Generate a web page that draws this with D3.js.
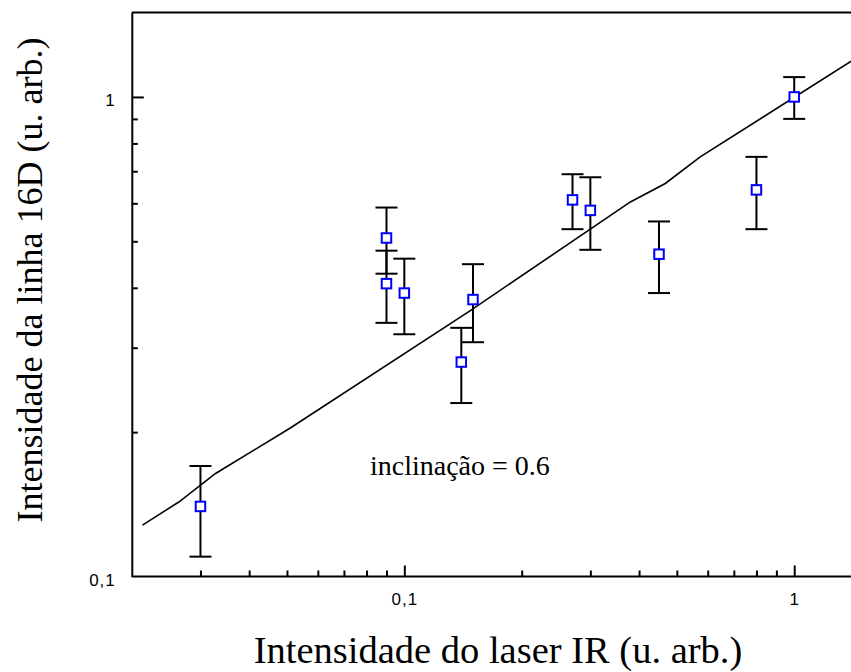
<!DOCTYPE html>
<html>
<head>
<meta charset="utf-8">
<script src="https://cdn.jsdelivr.net/npm/d3@7"></script>
<style>
  html, body { margin: 0; padding: 0; background: #fff; }
  svg { display: block; }
  .serif { font-family: "Liberation Serif", "Times New Roman", serif; fill: #000; }
</style>
</head>
<body>
<svg id="chart" width="851" height="672"></svg>
<script>
// Measured points: laser intensity (x), line 16D intensity (y) and its error (±)
const laserIR = [0.03, 0.09, 0.09, 0.10, 0.14, 0.15, 0.27, 0.30, 0.45, 0.80, 1.00];
const line16D = [0.14, 0.508, 0.408, 0.39, 0.28, 0.378, 0.61, 0.58, 0.47, 0.64, 1.00];
const line16DErr = [0.03, 0.08, 0.07, 0.07, 0.05, 0.07, 0.08, 0.10, 0.08, 0.11, 0.10];

// Fitted power-law curve (polyline vertices)
const fitX = [0.0213, 0.0264, 0.0328, 0.051, 0.148, 0.38, 0.467, 0.574, 1.4];
const fitY = [0.128, 0.143, 0.164, 0.204, 0.359, 0.604, 0.660, 0.750, 1.187];

// Axis ticks
const xMajorTicks = [0.1, 1];
const xMinorTicks = [0.03, 0.04, 0.05, 0.06, 0.07, 0.08, 0.09, 0.2, 0.3, 0.4, 0.5, 0.6, 0.7, 0.8, 0.9];
const xTickLabels = ["0,1", "1"];
const yMajorTicks = [0.1, 1];
const yMinorTicks = [0.2, 0.3, 0.4, 0.5, 0.6, 0.7, 0.8, 0.9];
const yTickLabels = ["0,1", "1"];

const xTitle = "Intensidade do laser IR (u. arb.)";
const yTitle = "Intensidade da linha 16D (u. arb.)";
const slopeNote = "inclinação = 0.6";

const svg = d3.select("#chart");

const x = d3.scaleLog().domain([0.02, 1.4]).range([131.8, 851.2]);
const y = d3.scaleLog().domain([0.1, 1.5]).range([576.5, 12.5]);

const plotLeft = x.range()[0], plotBottom = y.range()[0], plotTop = y.range()[1], plotRight = x.range()[1];

// Frame: top border
svg.append("line")
  .attr("x1", plotLeft).attr("x2", plotRight + 2)
  .attr("y1", plotTop).attr("y2", plotTop)
  .attr("stroke", "#000").attr("stroke-width", 2);

function labelFor(majors, labels) {
  return d => {
    const i = majors.indexOf(d);
    return i >= 0 ? labels[i] : "";
  };
}

function styleTickText(g) {
  g.selectAll(".tick text")
    .style("font-family", "'Liberation Sans', Arial, sans-serif")
    .style("font-size", "17px")
    .style("letter-spacing", "1px")
    .style("fill", "#000");
}

// X axis
const xAxis = d3.axisBottom(x)
  .tickValues(xMajorTicks.concat(xMinorTicks))
  .tickSizeInner(-6).tickSizeOuter(0).tickPadding(16)
  .tickFormat(labelFor(xMajorTicks, xTickLabels));
const gx = svg.append("g").attr("transform", `translate(0,${plotBottom})`).call(xAxis);
gx.select(".domain").attr("stroke-width", 2).attr("d", `M${plotLeft},0H${plotRight + 2}`);
gx.selectAll(".tick line").attr("stroke-width", 2)
  .attr("y2", d => xMajorTicks.includes(d) ? -11 : -6);
styleTickText(gx);

// Y axis
const yAxis = d3.axisLeft(y)
  .tickValues(yMajorTicks.concat(yMinorTicks))
  .tickSizeInner(-6).tickSizeOuter(0).tickPadding(16)
  .tickFormat(labelFor(yMajorTicks, yTickLabels));
const gy = svg.append("g").attr("transform", `translate(${plotLeft},0)`).call(yAxis);
gy.select(".domain").attr("stroke-width", 2);
gy.selectAll(".tick line").attr("stroke-width", 2)
  .attr("x2", d => yMajorTicks.includes(d) ? 12 : 6);
styleTickText(gy);
gy.selectAll(".tick text").attr("dy", "0.5em");
gy.selectAll(".tick").filter(d => d === 0.1).select("line").attr("x2", 0);

// Fit curve
const fitLine = d3.line().x(d => x(d[0])).y(d => y(d[1]));
svg.append("path")
  .datum(fitX.map((v, i) => [v, fitY[i]]))
  .attr("d", fitLine)
  .attr("fill", "none").attr("stroke", "#000").attr("stroke-width", 1.6);

// Error bars
const pts = laserIR.map((v, i) => ({ x: v, y: line16D[i], e: line16DErr[i] }));
const capHalf = 11;
const eb = svg.append("g").attr("stroke", "#000").attr("stroke-width", 2);
pts.forEach(p => {
  const cx = x(p.x), y1 = y(p.y + p.e), y2 = y(p.y - p.e);
  eb.append("line").attr("x1", cx).attr("x2", cx).attr("y1", y1).attr("y2", y2);
  eb.append("line").attr("x1", cx - capHalf).attr("x2", cx + capHalf).attr("y1", y1).attr("y2", y1);
  eb.append("line").attr("x1", cx - capHalf).attr("x2", cx + capHalf).attr("y1", y2).attr("y2", y2);
});

// Square markers
const sq = 9.5;
svg.append("g").selectAll("rect").data(pts).join("rect")
  .attr("x", d => x(d.x) - sq / 2).attr("y", d => y(d.y) - sq / 2)
  .attr("width", sq).attr("height", sq)
  .attr("fill", "#fff").attr("stroke", "#0000ff").attr("stroke-width", 2);

// Slope annotation
svg.append("text").attr("class", "serif")
  .attr("x", 370).attr("y", 475)
  .style("font-size", "28px")
  .text(slopeNote);

// Axis titles
svg.append("text").attr("class", "serif")
  .attr("x", 498).attr("y", 663)
  .attr("text-anchor", "middle")
  .style("font-size", "38.5px")
  .text(xTitle);

svg.append("text").attr("class", "serif")
  .attr("transform", "translate(42,280) rotate(-90)")
  .attr("text-anchor", "middle")
  .style("font-size", "36px")
  .text(yTitle);
</script>
</body>
</html>
